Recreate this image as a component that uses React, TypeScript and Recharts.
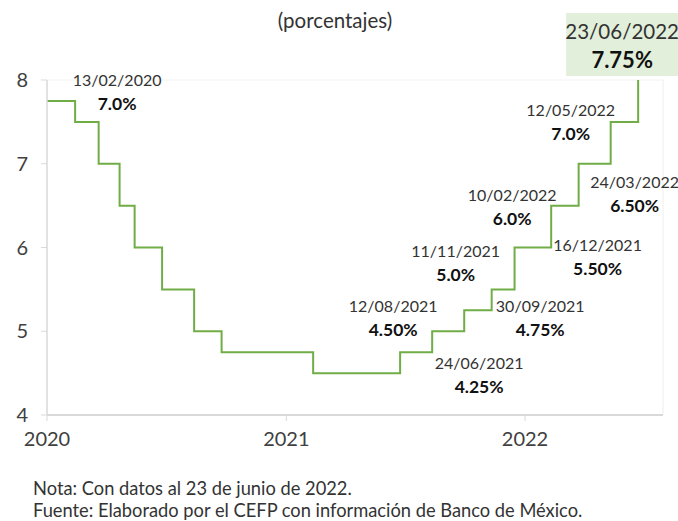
import React from 'react';
import { LineChart, Line, XAxis, YAxis, ReferenceLine, ReferenceDot } from 'recharts';

// fechas de cambio de la tasa y nivel trazado de la línea
const rateDates = [
  '2020-01-01', '2020-02-13', '2020-03-20', '2020-04-21', '2020-05-14', '2020-06-25',
  '2020-08-13', '2020-09-24', '2021-02-11', '2021-06-24', '2021-08-12', '2021-09-30',
  '2021-11-11', '2021-12-16', '2022-02-10', '2022-03-24', '2022-05-12', '2022-06-23',
];
const rateValues = [7.75, 7.5, 7.0, 6.5, 6.0, 5.5, 5.0, 4.75, 4.5, 4.75, 5.0, 5.25, 5.5, 6.0, 6.5, 7.0, 7.5, 8.0];

const yearTicks = ['2020-01-01', '2021-01-01', '2022-01-01'];
const yTicks = [4, 5, 6, 7, 8];

// etiquetas de anuncios
const noteDates = ['13/02/2020', '24/06/2021', '12/08/2021', '30/09/2021', '11/11/2021', '16/12/2021', '10/02/2022', '24/03/2022', '12/05/2022', '23/06/2022'];
const noteRates = ['7.0%', '4.25%', '4.50%', '4.75%', '5.0%', '5.50%', '6.0%', '6.50%', '7.0%', '7.75%'];

// desplazamiento (px) de cada etiqueta respecto al escalón
const noteOffsets = [[42, -42], [79, 10], [-39, -26], [76, -5], [-36, -39], [83, -3], [-39, -11], [56, 18], [-40, -12], [-16, -49]];

const FONT = 'Lato, sans-serif';
const W = 678;
const H = 521;

const ts = (d: string) => Date.parse(d + 'T00:00:00Z');
const data = rateDates.map((d, i) => ({ t: ts(d), tasa: rateValues[i] }));
const xStart = ts('2020-01-01');
const xEnd = ts('2022-07-31');

const notes = noteDates.map((label, i) => {
  const [dd, mm, yy] = label.split('/');
  const iso = `${yy}-${mm}-${dd}`;
  const idx = rateDates.indexOf(iso);
  return { label, rate: noteRates[i], t: ts(iso), y: rateValues[idx], dx: noteOffsets[i][0], dy: noteOffsets[i][1], last: i === noteDates.length - 1 };
});

const NoteShape = (p: any, n: any) => {
  const x = p.cx + n.dx;
  const y = p.cy + n.dy;
  if (n.last) {
    return (
      <g>
        <rect x={x - 56} y={y - 18} width={113} height={63} fill="#E2EFDA" />
        <text x={x} y={y} textAnchor="middle" dominantBaseline="central" fontFamily={FONT} fontSize={20.5} fill="#333">{n.label}</text>
        <text x={x} y={y + 28} textAnchor="middle" dominantBaseline="central" fontFamily={FONT} fontSize={22} fontWeight="bold" fill="#111">{n.rate}</text>
      </g>
    );
  }
  return (
    <g>
      <text x={x} y={y} textAnchor="middle" dominantBaseline="central" fontFamily={FONT} fontSize={16} fill="#333">{n.label}</text>
      <text x={x} y={y + 24} textAnchor="middle" dominantBaseline="central" fontFamily={FONT} fontSize={17.5} fontWeight="bold" fill="#111">{n.rate}</text>
    </g>
  );
};

export default function App() {
  return (
    <div style={{ position: 'absolute', left: 0, top: 0, width: W, height: H, background: '#fff', fontFamily: FONT }}>
      <div style={{ position: 'absolute', left: 0, width: 670, top: 8, textAlign: 'center', fontSize: 20.5, color: '#333' }}>
        (porcentajes)
      </div>
      <LineChart width={W} height={H} data={data} margin={{ top: 80, right: 15, left: 0, bottom: 66 }}>
        <XAxis
          dataKey="t"
          type="number"
          domain={[xStart, xEnd]}
          ticks={yearTicks.map(ts)}
          tickFormatter={(v: number) => String(new Date(v).getUTCFullYear())}
          height={40}
          tickSize={6}
          tickMargin={11}
          axisLine={{ stroke: '#D9D9D9', strokeWidth: 2 }}
          tickLine={{ stroke: '#D9D9D9' }}
          tick={{ fill: '#404040', fontSize: 20, fontFamily: FONT }}
        />
        <YAxis
          type="number"
          domain={[4, 8]}
          ticks={yTicks}
          width={47}
          tickSize={6}
          tickMargin={13}
          axisLine={{ stroke: '#D9D9D9', strokeWidth: 1.5 }}
          tickLine={{ stroke: '#D9D9D9' }}
          tick={{ fill: '#404040', fontSize: 20, fontFamily: FONT }}
        />
        <ReferenceLine y={8} stroke="#F2F2F2" />
        <ReferenceLine x={xEnd} stroke="#EEEEEE" />
        <Line type="stepAfter" dataKey="tasa" stroke="#70AD47" strokeWidth={2} dot={false} isAnimationActive={false} />
        {notes.map((n) => (
          <ReferenceDot key={n.label} x={n.t} y={n.y} r={0} shape={(p: any) => NoteShape(p, n)} />
        ))}
      </LineChart>
      <div style={{ position: 'absolute', left: 33, top: 477, fontSize: 18.3, color: '#333', lineHeight: '22px' }}>
        <div>Nota: Con datos al 23 de junio de 2022.</div>
        <div>Fuente: Elaborado por el CEFP con información de Banco de México.</div>
      </div>
    </div>
  );
}
